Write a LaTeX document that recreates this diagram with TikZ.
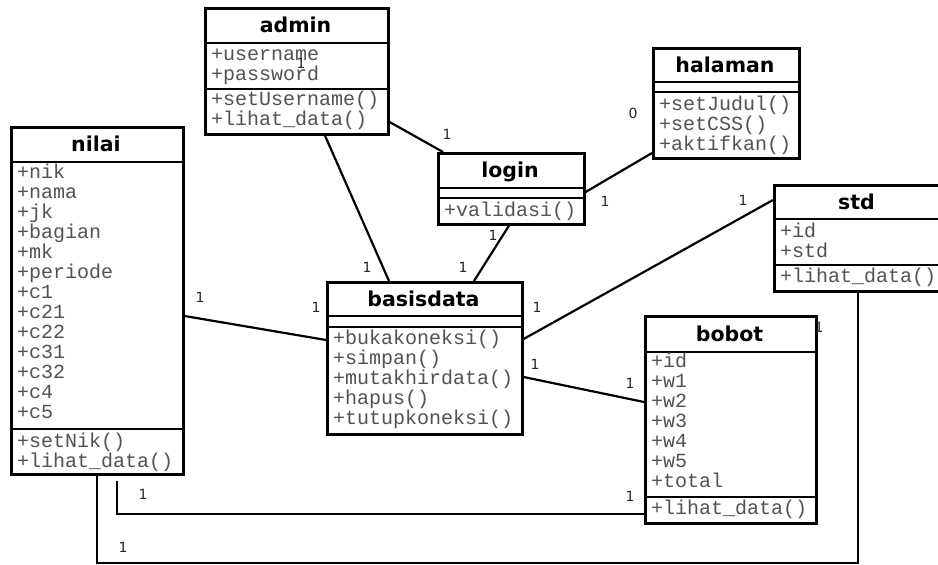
\documentclass[tikz,border=0pt]{standalone}
\usepackage{fontspec}
\newfontfamily\titlefont{DejaVu Sans}
\newfontfamily\memberfont{Liberation Mono}
\newfontfamily\multfont{DejaVu Sans}

\tikzset{
  boxframe/.style={draw, line width=2.6pt, anchor=north west, inner sep=0pt, fill=white},
  rule/.style={line width=2.4pt},
  classtitle/.style={anchor=base, inner sep=0pt,
    font=\titlefont\bfseries\fontsize{20.5}{20.5}\selectfont},
  member/.style={anchor=base west, inner sep=0pt, text=black!68,
    font=\memberfont\fontsize{20}{20}\selectfont},
  mult/.style={inner sep=0pt, text=black!85, font=\multfont\fontsize{14}{14}\selectfont},
  link/.style={line width=2.2pt, line join=miter},
}

% class frame: name, x1, y1, x2, y2, bottom of header, bottom of attributes
\newcommand\classframe[7]{%
  \node[boxframe, minimum width=#4pt-#2pt, minimum height=#5pt-#3pt] (#1) at (#2,#3) {};
  \draw[rule] (#1.west |- 0,#6) -- (#1.east |- 0,#6);
  \draw[rule] (#1.west |- 0,#7) -- (#1.east |- 0,#7);
  \node[classtitle] (#1-title) at ({(#2+#4)/2},{(#3+#6)/2+7.5}) {#1};
}
% member rows: node prefix, x, first baseline, list of rows
\newcommand\memberrows[4]{%
  \foreach \t [count=\i] in {#4}
    \node[member] (#1\i) at (#2,{#3+20.08*(\i-1)}) {\t};
}

\begin{document}
\begin{tikzpicture}[x=1pt, y=-1pt]
\useasboundingbox (0,0) rectangle (938,565);

\coordinate (nsbend) at (97,563);

% ---------- classes ----------
\classframe{admin}{204}{7}{387}{133}{43}{89}
\memberrows{admin-a}{211}{60}{+username,+password}
\memberrows{admin-m}{211}{105}{+setUsername(),+lihat\_data()}

\classframe{halaman}{652}{47}{798}{157}{82}{92}
\memberrows{halaman-m}{659}{110}{+setJudul(),+setCSS(),+aktifkan()}

\classframe{login}{437}{152}{583}{223}{188}{198}
\memberrows{login-m}{444}{216}{+validasi()}

\classframe{nilai}{10}{126}{182}{473}{162}{429}
\memberrows{nilai-a}{17}{178}{+nik,+nama,+jk,+bagian,+mk,+periode,+c1,+c21,+c22,+c31,+c32,+c4,+c5}
\memberrows{nilai-m}{17}{447}{+setNik(),+lihat\_data()}

\classframe{basisdata}{326}{281}{521}{433}{316}{327}
\memberrows{basisdata-m}{333}{344}{+bukakoneksi(),+simpan(),+mutakhirdata(),+hapus(),+tutupkoneksi()}

\classframe{std}{773}{184}{940}{290}{219}{265}
\memberrows{std-a}{780}{237}{+id,+std}
\memberrows{std-m}{780}{282}{+lihat\_data()}

\classframe{bobot}{644}{315}{815}{522}{352}{497}
\memberrows{bobot-a}{651}{367}{+id,+w1,+w2,+w3,+w4,+w5,+total}
\memberrows{bobot-m}{651}{514}{+lihat\_data()}

% ---------- associations ----------
\draw[link] (admin.east |- 0,122) -- (login.north -| 443,0);
\draw[link] (admin.south -| 325,0) -- (basisdata.north -| 389,0);
\draw[link] (login.east |- 0,192) -- (halaman.west |- 0,153);
\draw[link] (login.south -| 509,0) -- (basisdata.north -| 474,0);
\draw[link] (nilai.east |- 0,316) -- (basisdata.west |- 0,340);
\draw[link] (basisdata.east |- 0,339) -- (std.west |- 0,200);
\draw[link] (basisdata.east |- 0,377) -- (bobot.west |- 0,402);
\draw[link, shorten <=5pt] (nilai.south -| 117,0) |- (bobot.west |- 0,514);
\draw[link] (nilai.south -| 97,0) -- (nsbend) -| (std.south -| 858,0);

% ---------- multiplicities ----------
\node[mult] (m-admin-in) at (301,63) {1};
\node[mult] (m-al-login) at (447,134) {1};
\node[mult] (m-ab-basis) at (367,267) {1};
\node[mult] (m-lh-login) at (605,201) {1};
\node[mult] (m-lh-hal) at (633,113) {0};
\node[mult] (m-lb-login) at (493,235) {1};
\node[mult] (m-lb-basis) at (463,267) {1};
\node[mult] (m-nb-nilai) at (200,297) {1};
\node[mult] (m-nb-basis) at (316,307) {1};
\node[mult] (m-bs-basis) at (537,307) {1};
\node[mult] (m-bs-std) at (743,200) {1};
\node[mult] (m-bb-basis) at (535,364) {1};
\node[mult] (m-bb-bobot) at (630,383) {1};
\node[mult] (m-nw-nilai) at (143,494) {1};
\node[mult] (m-nw-bobot) at (630,496) {1};
\node[mult] (m-ns-nilai) at (123,547) {1};
\node[mult] (m-ns-std) at (819,327) {1};
\end{tikzpicture}
\end{document}
